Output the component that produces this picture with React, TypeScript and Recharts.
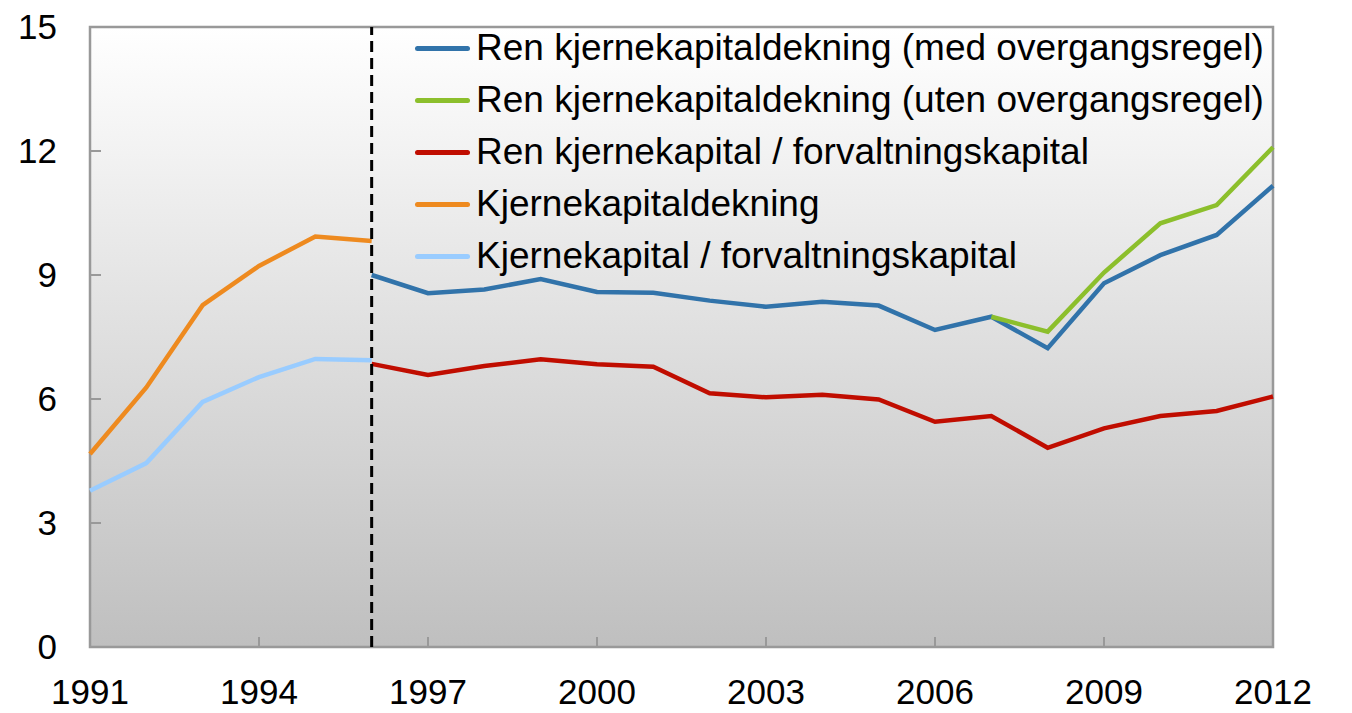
import {
  LineChart,
  Line,
  XAxis,
  YAxis,
  CartesianGrid,
  ReferenceLine,
  ReferenceArea,
  Legend,
} from "recharts";

const years = [
  1991, 1992, 1993, 1994, 1995, 1996, 1997, 1998, 1999, 2000, 2001, 2002,
  2003, 2004, 2005, 2006, 2007, 2008, 2009, 2010, 2011, 2012,
];

const renMed = [
  null, null, null, null, null, 9.0, 8.56, 8.65, 8.9, 8.59, 8.57, 8.38,
  8.23, 8.35, 8.26, 7.67, 7.99, 7.23, 8.8, 9.48, 9.97, 11.16,
];
const renUten = [
  null, null, null, null, null, null, null, null, null, null, null, null,
  null, null, null, null, 7.99, 7.63, 9.06, 10.25, 10.69, 12.09,
];
const renForv = [
  null, null, null, null, null, 6.85, 6.58, 6.8, 6.96, 6.84, 6.78, 6.14,
  6.04, 6.1, 5.99, 5.45, 5.59, 4.82, 5.29, 5.59, 5.71, 6.06,
];
const kjDekning = [
  4.67, 6.28, 8.27, 9.22, 9.93, 9.82, null, null, null, null, null, null,
  null, null, null, null, null, null, null, null, null, null,
];
const kjForv = [
  3.78, 4.45, 5.93, 6.53, 6.97, 6.94, null, null, null, null, null, null,
  null, null, null, null, null, null, null, null, null, null,
];

const xTicks = [1991, 1994, 1997, 2000, 2003, 2006, 2009, 2012];
const yTicks = [0, 3, 6, 9, 12, 15];

const series = [
  { key: "renMed", name: "Ren kjernekapitaldekning (med overgangsregel)", color: "#3173aa" },
  { key: "renUten", name: "Ren kjernekapitaldekning (uten overgangsregel)", color: "#8cbf2c" },
  { key: "renForv", name: "Ren kjernekapital / forvaltningskapital", color: "#c00d00" },
  { key: "kjDekning", name: "Kjernekapitaldekning", color: "#ee8a1f" },
  { key: "kjForv", name: "Kjernekapital / forvaltningskapital", color: "#99ccff" },
];

const data = years.map((year, i) => ({
  year,
  renMed: renMed[i],
  renUten: renUten[i],
  renForv: renForv[i],
  kjDekning: kjDekning[i],
  kjForv: kjForv[i],
}));

const font = "'Liberation Sans', Arial, sans-serif";

function LegendBox() {
  return (
    <div style={{ fontFamily: font, fontSize: 37, color: "#000" }}>
      {series.map((s) => (
        <div
          key={s.key}
          style={{ display: "flex", alignItems: "center", height: 52, whiteSpace: "nowrap" }}
        >
          <span
            style={{
              display: "inline-block",
              width: 55,
              height: 5,
              background: s.color,
              borderRadius: 2.5,
              marginRight: 6,
            }}
          />
          <span>{s.name}</span>
        </div>
      ))}
    </div>
  );
}

export default function App() {
  return (
    <div style={{ position: "absolute", left: 0, top: 0, background: "#fff" }}>
      <LineChart
        width={1352}
        height={713}
        data={data}
        margin={{ top: 27, right: 0, bottom: 0, left: 0 }}
      >
        <defs>
          <linearGradient id="bg" x1="0" y1="0" x2="0" y2="1">
            <stop offset="0%" stopColor="#ffffff" />
            <stop offset="100%" stopColor="#bfbfbf" />
          </linearGradient>
        </defs>
        <CartesianGrid horizontal={false} vertical={false} fill="url(#bg)" yAxisId="left" />
        <XAxis
          dataKey="year"
          type="number"
          domain={[1991, 2012]}
          ticks={xTicks}
          height={66}
          axisLine={false}
          tickSize={-10}
          tickMargin={42}
          tickLine={{ stroke: "#999", strokeWidth: 2 }}
          tick={{ fill: "#000", fontSize: 35, fontFamily: font }}
          interval={0}
        />
        <YAxis
          yAxisId="left"
          domain={[0, 15]}
          ticks={yTicks}
          width={90}
          axisLine={false}
          tickSize={-11}
          tickMargin={44}
          tickLine={{ stroke: "#999", strokeWidth: 2 }}
          tick={{ fill: "#000", fontSize: 35, fontFamily: font }}
          interval={0}
        />
        <YAxis
          yAxisId="right"
          orientation="right"
          domain={[0, 15]}
          ticks={yTicks}
          width={79}
          axisLine={false}
          tickSize={-11}
          tickMargin={35}
          tickLine={{ stroke: "#999", strokeWidth: 2 }}
          tick={{ fill: "#000", fontSize: 35, fontFamily: font }}
          interval={0}
        />
        <Legend
          layout="vertical"
          align="center"
          verticalAlign="middle"
          content={() => <LegendBox />}
          wrapperStyle={{ position: "absolute", left: 415, top: 22, width: 900 }}
        />
        {series.map((s) => (
          <Line
            key={s.key}
            yAxisId="left"
            dataKey={s.key}
            name={s.name}
            stroke={s.color}
            strokeWidth={4.5}
            dot={false}
            activeDot={false}
            type="linear"
            isAnimationActive={false}
          />
        ))}
        <ReferenceLine
          yAxisId="left"
          x={1996}
          stroke="#000"
          strokeWidth={3}
          strokeDasharray="11 6"
        />
        <ReferenceArea
          yAxisId="left"
          x1={1991}
          x2={2012}
          y1={0}
          y2={15}
          fill="none"
          stroke="#999"
          strokeWidth={2.5}
        />
      </LineChart>
    </div>
  );
}
